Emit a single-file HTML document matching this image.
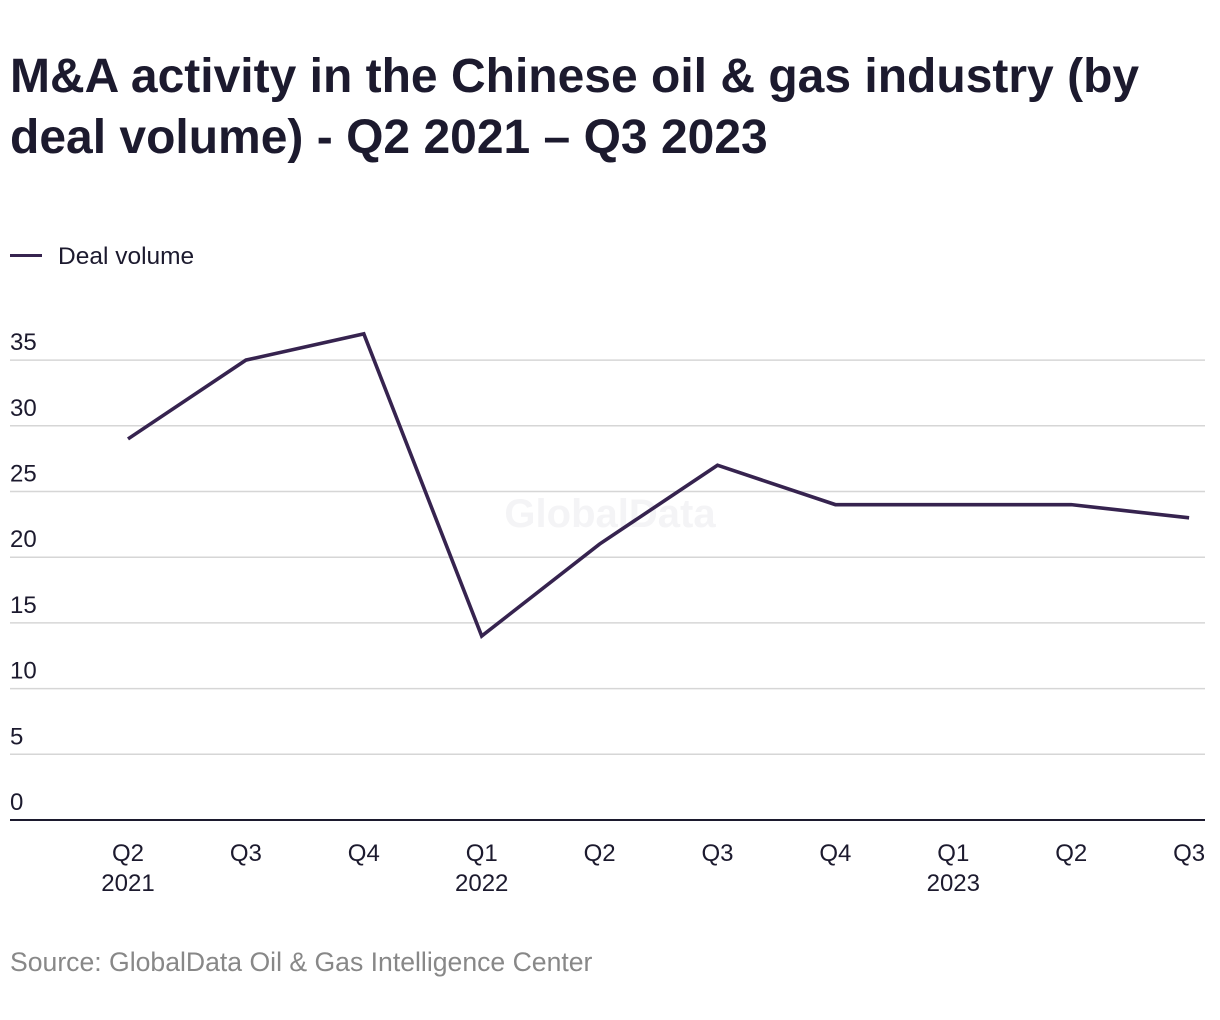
<!DOCTYPE html>
<html><head><meta charset="utf-8"><style>
body{margin:0;width:1220px;height:1020px;background:#fff;font-family:"Liberation Sans",sans-serif;overflow:hidden}
h1{position:absolute;left:10px;top:46px;margin:0;font-size:48px;line-height:61px;font-weight:bold;color:#1c1a2e;width:1210px;white-space:nowrap}
.legend{position:absolute;left:10px;top:243px;font-size:24.5px;color:#1c1a2e}
.legend span.sw{display:inline-block;width:32px;height:3px;background:#36234f;vertical-align:middle;margin-right:16px;position:relative;top:-2px}
.src{position:absolute;left:10px;top:947px;font-size:26.6px;color:#888}
svg{position:absolute;left:0;top:0}
</style></head><body>
<h1>M&amp;A activity in the Chinese oil &amp; gas industry (by<br>deal volume) - Q2 2021 – Q3 2023</h1>
<div class="legend"><span class="sw"></span>Deal volume</div>
<svg width="1220" height="1020">
<text x="610" y="527" text-anchor="middle" font-size="40" font-weight="bold" fill="#f4f4f6" font-family="Liberation Sans">GlobalData</text>
<g id="grid"></g><g id="xl"></g><path id="line" fill="none" stroke="#36234f" stroke-width="3.6" stroke-linejoin="miter"/>
</svg>
<div class="src">Source: GlobalData Oil &amp; Gas Intelligence Center</div>
<script>
const quarters=["Q2","Q3","Q4","Q1","Q2","Q3","Q4","Q1","Q2","Q3"];
const years=["2021","","","2022","","","","2023","",""];
const dealVolume=[29,35,37,14,21,27,24,24,24,23];
const yTicks=[0,5,10,15,20,25,30,35];
const NS="http://www.w3.org/2000/svg";
const y=v=>820-v*13.14;
const x=i=>128+i*117.9;
const g=document.getElementById('grid'),xl=document.getElementById('xl');
function mk(t,a,p){const e=document.createElementNS(NS,t);for(const k in a)e.setAttribute(k,a[k]);p.appendChild(e);return e;}
yTicks.forEach(v=>{
 const l=mk('line',{x1:10,x2:1205,y1:y(v),y2:y(v),stroke:v?'#d6d6d6':'#1c1a2e','stroke-width':v?1.5:2},g);
 
 
 const t=mk('text',{x:10,y:y(v)-10,'font-size':24,fill:'#1c1a2e'},g);t.textContent=v;
 
 
});
quarters.forEach((q,i)=>{
 const t=mk('text',{x:x(i),y:861,'font-size':24,fill:'#1c1a2e','text-anchor':'middle'},xl);t.textContent=q;
 
 
 if(years[i]){const u=mk('text',{x:x(i),y:891,'font-size':24,fill:'#1c1a2e','text-anchor':'middle'},xl);u.textContent=years[i];
 
 }
});
document.getElementById('line').setAttribute('d',dealVolume.map((v,i)=>(i?'L':'M')+x(i)+','+y(v)).join(''));
</script>
</body></html>
